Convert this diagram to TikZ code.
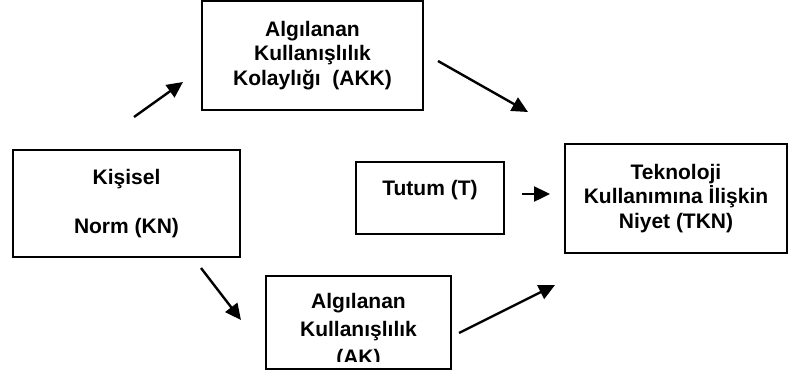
\documentclass[tikz,border=0pt]{standalone}
\usepackage{fontspec}
\setmainfont{Liberation Sans}
\usetikzlibrary{arrows.meta}

\begin{document}
\begin{tikzpicture}[x=1pt,y=-1pt,
   kutu/.style={draw=black,line width=1.6pt,rectangle,inner sep=0pt,align=center,
      font=\bfseries\fontsize{21}{24.5}\selectfont},
   ok/.style={line width=2.4pt,-{Triangle[length=16pt,width=15pt]}}]
   \useasboundingbox (0,0) rectangle (790,376);
   % kutular
   \node[kutu,minimum width=221pt,minimum height=109pt] (akk) at (312.5,55.5)
      {Algılanan\\Kullanışlılık\\Kolaylığı\ \ (AKK)};
   \node[kutu,minimum width=227pt,minimum height=107pt] (kn) at (126.5,203.5)
      {Kişisel\\[24pt]Norm (KN)};
   \node[kutu,minimum width=148pt,minimum height=72pt,text height=15pt,text depth=21pt] (t) at (430,198)
      {Tutum (T)};
   \node[kutu,minimum width=222pt,minimum height=109pt] (tkn) at (676,198.5)
      {Teknoloji\\Kullanımına İlişkin\\Niyet (TKN)};
   \node[kutu,minimum width=185pt,minimum height=93pt] (ak) at (358.5,322.5) {};
   \begin{scope}
      \clip (ak.north west) rectangle ([yshift=8pt]ak.south east);
      \node[inner sep=0pt,align=center,anchor=north,
         font=\bfseries\fontsize{21}{28}\selectfont] (akyazi) at (358.5,293)
         {Algılanan\\Kullanışlılık\\(AK)};
   \end{scope}
   % oklar
   \coordinate (o1a) at (134,117);  \coordinate (o1b) at (183,82);
   \coordinate (o2a) at (438,61);   \coordinate (o2b) at (528,112);
   \coordinate (o3a) at (201,268);  \coordinate (o3b) at (241,320);
   \coordinate (o4a) at (459,333);  \coordinate (o4b) at (555,285);
   \coordinate (o5a) at (522,194);  \coordinate (o5b) at (550,194);
   \draw[ok] (o1a) -- (o1b);
   \draw[ok] (o2a) -- (o2b);
   \draw[ok] (o3a) -- (o3b);
   \draw[ok] (o4a) -- (o4b);
   \draw[ok] (o5a) -- (o5b);
\end{tikzpicture}
\end{document}
